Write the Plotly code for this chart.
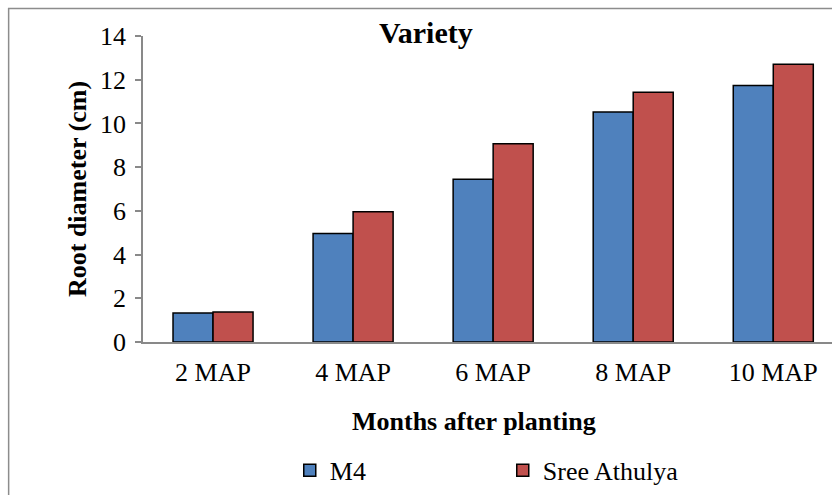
import plotly.graph_objects as go

categories = ["2 MAP", "4 MAP", "6 MAP", "8 MAP", "10 MAP"]
m4 = [1.33, 4.96, 7.45, 10.52, 11.74]
sree = [1.37, 5.96, 9.07, 11.43, 12.71]
y_ticks = [0, 2, 4, 6, 8, 10, 12, 14]

FONT = "Liberation Serif, Times New Roman, serif"
FS = 26
W, H = 832, 495
L, R, T, B = 143.3, 0, 35.6, 153.3
pw = W - L - R
ph = H - T - B

def px(x):
    return (x - L) / pw

def py(y):
    return (H - B - y) / ph

fig = go.Figure()
fig.add_trace(go.Bar(x=categories, y=m4, name="M4",
                     marker=dict(color="#4F81BD", line=dict(color="black", width=1.5))))
fig.add_trace(go.Bar(x=categories, y=sree, name="Sree Athulya",
                     marker=dict(color="#C0504D", line=dict(color="black", width=1.5))))

fig.update_layout(
    width=W, height=H,
    margin=dict(l=L, r=R, t=T, b=B, pad=0),
    paper_bgcolor="white", plot_bgcolor="white",
    barmode="group", bargap=0.4286, bargroupgap=0,
    font=dict(family=FONT, color="black", size=FS),
    title=dict(text="<b>Variety</b>", x=px(426), xref="paper", xanchor="center",
               y=1 - 32 / H, yref="container", yanchor="middle",
               font=dict(family=FONT, size=30, color="black")),
    showlegend=True,
    legend=dict(orientation="h", x=px(290), xanchor="left", y=py(470), yanchor="middle",
                yref="paper", entrywidth=168, entrywidthmode="pixels",
                font=dict(family=FONT, size=FS, color="black"), bgcolor="rgba(0,0,0,0)"),
    xaxis=dict(range=[-0.5, -0.5 + pw / 140], showline=True, linecolor="#898989", linewidth=1.5,
               ticks="", showgrid=False, zeroline=False, ticklabelstandoff=6,
               tickfont=dict(family=FONT, size=FS, color="black")),
    yaxis=dict(range=[0, 14], tickvals=y_ticks, showline=True, linecolor="#898989", linewidth=1.5,
               ticks="outside", ticklen=6, tickcolor="#898989", tickwidth=1.5,
               showgrid=False, zeroline=False, ticklabelstandoff=4,
               tickfont=dict(family=FONT, size=FS, color="black"),
               title=dict(text="<b>Root diameter (cm)</b>", standoff=6,
                          font=dict(family=FONT, size=FS, color="black"))),
    annotations=[dict(text="<b>Months after planting</b>", x=px(474), y=py(421), xref="paper",
                      yref="paper", xanchor="center", yanchor="middle", showarrow=False,
                      font=dict(family=FONT, size=FS, color="black"))],
    shapes=[dict(type="rect", xref="paper", yref="paper", x0=px(9), x1=px(W + 20),
                 y0=py(H + 20), y1=py(8), line=dict(color="#8c8c8c", width=1.5),
                 fillcolor="rgba(0,0,0,0)", layer="below")],
)

fig.write_html("out.html")
